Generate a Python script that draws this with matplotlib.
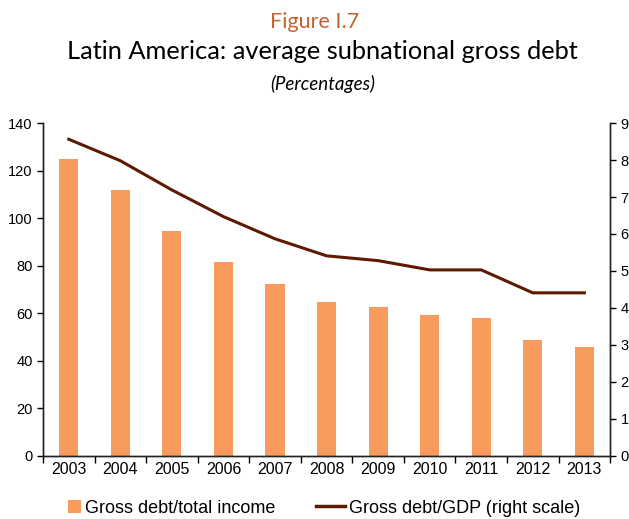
import numpy as np
import matplotlib.pyplot as plt
from matplotlib.lines import Line2D
from matplotlib.patches import Patch

years = ['2003', '2004', '2005', '2006', '2007', '2008', '2009', '2010', '2011', '2012', '2013']
debt_income = [124.8, 112.0, 94.5, 81.6, 72.2, 64.8, 62.8, 59.4, 58.1, 48.7, 45.9]
debt_gdp = [8.56, 7.98, 7.19, 6.47, 5.87, 5.41, 5.28, 5.03, 5.03, 4.41, 4.41]

bar_color = '#F79A5C'
line_color = '#5E1A00'

plt.rcParams['font.family'] = ['Liberation Sans', 'DejaVu Sans']

fig = plt.figure(figsize=(6.29, 5.19), dpi=100)
ax = fig.add_axes([0.0684, 0.1214, 0.9016, 0.6416])
ax2 = ax.twinx()

x = np.arange(len(years))
ax.bar(x, debt_income, width=0.37, color=bar_color, zorder=2)
ax2.plot(x, debt_gdp, color=line_color, linewidth=2.2)

ax.set_xlim(-0.5, len(years) - 0.5)
ax.set_ylim(0, 140)
ax.set_yticks(range(0, 141, 20))
ax2.set_ylim(0, 9)
ax2.set_yticks(range(0, 10))

# category labels centred, tick marks on the boundaries
ax.set_xticks(x)
ax.set_xticklabels(years)
ax.set_xticks(np.arange(-0.5, len(years)), minor=True)
ax.tick_params(axis='x', which='major', length=0, pad=4, labelsize=11.5)
ax.tick_params(axis='x', which='minor', length=5, width=1, direction='out')
ax.tick_params(axis='y', length=4.5, width=1, labelsize=10.5, pad=3)
ax2.tick_params(axis='y', length=4.5, width=1, labelsize=10.5, pad=3)

for a in (ax, ax2):
    a.spines['top'].set_visible(False)
    for s in ('left', 'right', 'bottom'):
        a.spines[s].set_color('#222222')
        a.spines[s].set_linewidth(1)

fig.text(0.5, 0.958, 'Figure I.7', ha='center', va='center',
         fontsize=15.5, color='#C4622D', family=['Lato', 'DejaVu Sans'])
fig.text(0.513, 0.900, 'Latin America: average subnational gross debt', ha='center',
         va='center', fontsize=18.3, color='black', family=['Lato', 'DejaVu Sans'])
fig.text(0.513, 0.838, '(Percentages)', ha='center', va='center', fontsize=13.5,
         style='italic', color='black', family=['Lato', 'DejaVu Sans'])

# two separate legend entries: a square swatch and a longer line
leg1 = fig.legend([Patch(facecolor=bar_color, edgecolor='none')],
                  ['Gross debt/total income'], loc='center left',
                  bbox_to_anchor=(0.108, 0.021), frameon=False, fontsize=13,
                  handlelength=0.75, handleheight=0.75, handletextpad=0.2,
                  borderaxespad=0, borderpad=0)
leg2 = fig.legend([Line2D([0], [0], color=line_color, linewidth=2.5)],
                  ['Gross debt/GDP (right scale)'], loc='center left',
                  bbox_to_anchor=(0.503, 0.021), frameon=False, fontsize=13,
                  handlelength=1.6, handletextpad=0.2,
                  borderaxespad=0, borderpad=0)

fig.savefig('out.png', dpi=100)
